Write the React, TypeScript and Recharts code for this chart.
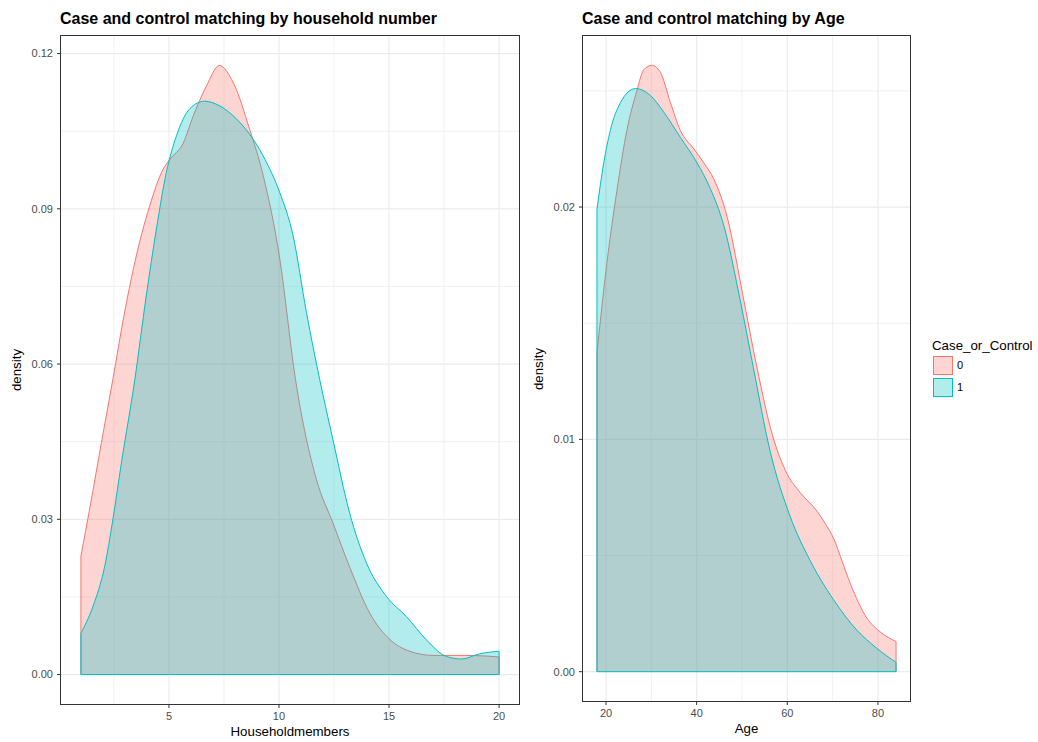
import { ComposedChart, Area, XAxis, YAxis, CartesianGrid, ReferenceLine } from 'recharts';

const FONT = '"Liberation Sans", Arial, Helvetica, sans-serif';
const RED = '#F8766D';
const TEAL = '#00BFC4';

// household members panel
const hhX0 = [1, 1.42, 1.93, 2.45, 2.95, 3.44, 4.12, 4.73, 5.03, 5.65, 6.1, 6.7, 7.29, 7.93, 8.67, 9.29, 10.03, 10.75, 11.7, 12.45, 13.2, 14.12, 15.03, 15.94, 17.0, 18.5, 20];
const hhD0 = [0.0229, 0.0325, 0.0448, 0.057, 0.0692, 0.0795, 0.0905, 0.0976, 0.0995, 0.1027, 0.1079, 0.1137, 0.1177, 0.1143, 0.1053, 0.0963, 0.0805, 0.057, 0.0377, 0.0293, 0.0209, 0.0119, 0.0068, 0.0045, 0.0037, 0.0037, 0.0034];
const hhX1 = [1, 1.55, 2.08, 2.45, 2.84, 3.45, 3.97, 4.43, 4.88, 5.34, 5.94, 6.62, 7.3, 8.06, 8.82, 9.43, 10.03, 10.64, 11.25, 11.85, 12.45, 13.21, 13.97, 14.88, 15.79, 16.7, 17.6, 18.3, 19.1, 20];
const hhD1 = [0.008, 0.0132, 0.0209, 0.0299, 0.0409, 0.057, 0.0732, 0.0861, 0.097, 0.1041, 0.1093, 0.1108, 0.1099, 0.1074, 0.1035, 0.099, 0.0932, 0.0848, 0.0699, 0.057, 0.0454, 0.0312, 0.0216, 0.0151, 0.0112, 0.0067, 0.0035, 0.003, 0.004, 0.0045];
const hhXTicks = [5, 10, 15, 20];
const hhXMinor = [2.5, 7.5, 12.5, 17.5];
const hhYTicks = [0, 0.03, 0.06, 0.09, 0.12];
const hhYMinor = [0.015, 0.045, 0.075, 0.105];

// age panel
const ageX0 = [18, 20.2, 22.4, 24.6, 26.8, 28.3, 30.1, 32.0, 34.2, 36.4, 39.4, 41.6, 43.8, 46.7, 50.4, 53.3, 56.7, 60.0, 62.9, 66.6, 68.3, 70.3, 72.2, 73.9, 77.6, 80.6, 84];
const ageD0 = [0.0137, 0.0176, 0.0207, 0.0233, 0.025, 0.0259, 0.0261, 0.0258, 0.0245, 0.0233, 0.0225, 0.0219, 0.0212, 0.0196, 0.016, 0.0131, 0.0102, 0.0085, 0.0077, 0.0069, 0.0064, 0.0057, 0.0047, 0.0038, 0.0023, 0.0017, 0.0013];
const ageX1 = [18, 19.5, 20.95, 23.2, 26.5, 29.8, 32.7, 36.4, 40.1, 43.0, 46.0, 49.6, 52.5, 56.2, 60.6, 65, 70.2, 75.3, 79.8, 84];
const ageD1 = [0.0199, 0.0219, 0.0233, 0.0245, 0.0251, 0.0248, 0.0241, 0.023, 0.0219, 0.0208, 0.0192, 0.016, 0.0131, 0.0095, 0.0067, 0.0048, 0.0031, 0.0018, 0.001, 0.0004];
const ageXTicks = [20, 40, 60, 80];
const ageXMinor = [30, 50, 70];
const ageYTicks = [0, 0.01, 0.02];
const ageYMinor = [0.005, 0.015, 0.025];

const groups = ['0', '1'];

function toSeries(xs: number[], ds: number[]) {
  return xs.map((x, i) => ({ x, d: ds[i] }));
}

function expand(lo: number, hi: number) {
  const pad = (hi - lo) * 0.05;
  return [lo - pad, hi + pad];
}

type PanelProps = {
  left: number;
  width: number;
  plotLeft: number;
  plotRight: number;
  plotBottom: number;
  title: string;
  xLabel: string;
  x0: number[];
  d0: number[];
  x1: number[];
  d1: number[];
  xTicks: number[];
  xMinor: number[];
  yTicks: number[];
  yMinor: number[];
};

function Panel(p: PanelProps) {
  const height = 742;
  const top = 35;
  const yAxisW = 40;
  const xAxisH = 30;
  const margin = {
    top,
    left: p.plotLeft - p.left - yAxisW,
    right: p.left + p.width - p.plotRight,
    bottom: height - p.plotBottom - xAxisH,
  };
  const allX = [...p.x0, ...p.x1];
  const allD = [...p.d0, ...p.d1];
  const xDomain = expand(Math.min(...allX), Math.max(...allX));
  const yDomain = expand(0, Math.max(...allD));
  const red = toSeries(p.x0, p.d0);
  const teal = toSeries(p.x1, p.d1);
  const n0 = p.x0.length - 1;
  const n1 = p.x1.length - 1;
  const tickStyle = { fill: '#4d4d4d', fontSize: 11, fontFamily: FONT };
  const plotMidX = (p.plotLeft + p.plotRight) / 2;
  const plotMidY = (top + p.plotBottom) / 2;

  return (
    <>
      <div style={{ position: 'absolute', left: p.plotLeft, top: 11, font: `bold 16px ${FONT}`, lineHeight: '16px', color: '#000', whiteSpace: 'nowrap' }}>
        {p.title}
      </div>
      <div style={{ position: 'absolute', left: p.left, top: 0 }}>
        <ComposedChart width={p.width} height={height} margin={margin}>
          <CartesianGrid stroke="#ebebeb" strokeWidth={0.7} horizontalValues={p.yMinor} verticalValues={p.xMinor} />
          <CartesianGrid stroke="#ebebeb" strokeWidth={1.2} horizontalValues={p.yTicks} verticalValues={p.xTicks} />
          <XAxis
            type="number"
            dataKey="x"
            domain={xDomain}
            ticks={p.xTicks}
            interval={0}
            allowDataOverflow
            axisLine={false}
            tickLine={{ stroke: '#333333' }}
            tickSize={3}
            tickMargin={4}
            height={xAxisH}
            tick={tickStyle}
          />
          <YAxis
            type="number"
            domain={yDomain}
            ticks={p.yTicks}
            interval={0}
            allowDataOverflow
            axisLine={false}
            tickLine={{ stroke: '#333333' }}
            tickSize={3}
            tickMargin={4}
            width={yAxisW}
            tick={tickStyle}
            tickFormatter={(v: number) => v.toFixed(2)}
          />
          <Area data={red} dataKey="d" type="monotone" baseValue={0} stroke={RED} strokeWidth={1} fill={RED} fillOpacity={0.3} dot={false} activeDot={false} isAnimationActive={false} />
          <Area data={teal} dataKey="d" type="monotone" baseValue={0} stroke={TEAL} strokeWidth={1} fill={TEAL} fillOpacity={0.3} dot={false} activeDot={false} isAnimationActive={false} />
          {/* polygon edges of the density outlines */}
          <ReferenceLine segment={[{ x: p.x0[0], y: 0 }, { x: p.x0[0], y: p.d0[0] }]} stroke={RED} strokeWidth={1} />
          <ReferenceLine segment={[{ x: p.x0[n0], y: 0 }, { x: p.x0[n0], y: p.d0[n0] }]} stroke={RED} strokeWidth={1} />
          <ReferenceLine segment={[{ x: p.x1[0], y: 0 }, { x: p.x1[0], y: p.d1[0] }]} stroke={TEAL} strokeWidth={1} />
          <ReferenceLine segment={[{ x: p.x1[n1], y: 0 }, { x: p.x1[n1], y: p.d1[n1] }]} stroke={TEAL} strokeWidth={1} />
          <ReferenceLine segment={[{ x: p.x1[0], y: 0 }, { x: p.x1[n1], y: 0 }]} stroke={TEAL} strokeWidth={1} />
        </ComposedChart>
      </div>
      <div style={{ position: 'absolute', left: p.plotLeft, top, width: p.plotRight - p.plotLeft, height: p.plotBottom - top, border: '1px solid #333333', boxSizing: 'border-box', pointerEvents: 'none' }} />
      <div style={{ position: 'absolute', left: plotMidX - 150, width: 300, top: p.plotBottom + 20, textAlign: 'center', font: `13.3px ${FONT}`, lineHeight: '13.3px', color: '#000' }}>
        {p.xLabel}
      </div>
      <div style={{ position: 'absolute', left: p.plotLeft - 43 - 100, width: 200, top: plotMidY - 7, textAlign: 'center', font: `13.3px ${FONT}`, lineHeight: '14px', color: '#000', transform: 'rotate(-90deg)', transformOrigin: '50% 50%' }}>
        density
      </div>
    </>
  );
}

export default function App() {
  return (
    <div style={{ position: 'absolute', left: 0, top: 0, width: 1038, height: 742, background: '#fff', overflow: 'hidden' }}>
      <Panel
        left={0}
        width={540}
        plotLeft={60}
        plotRight={520}
        plotBottom={705}
        title="Case and control matching by household number"
        xLabel="Householdmembers"
        x0={hhX0}
        d0={hhD0}
        x1={hhX1}
        d1={hhD1}
        xTicks={hhXTicks}
        xMinor={hhXMinor}
        yTicks={hhYTicks}
        yMinor={hhYMinor}
      />
      <Panel
        left={540}
        width={380}
        plotLeft={582}
        plotRight={911}
        plotBottom={702}
        title="Case and control matching by Age"
        xLabel="Age"
        x0={ageX0}
        d0={ageD0}
        x1={ageX1}
        d1={ageD1}
        xTicks={ageXTicks}
        xMinor={ageXMinor}
        yTicks={ageYTicks}
        yMinor={ageYMinor}
      />
      <div style={{ position: 'absolute', left: 932, top: 339, font: `13.3px ${FONT}`, lineHeight: '13.3px', color: '#000', whiteSpace: 'nowrap' }}>
        Case_or_Control
      </div>
      {groups.map((g, i) => {
        const color = i === 0 ? RED : TEAL;
        const fill = i === 0 ? 'rgba(248,118,109,0.3)' : 'rgba(0,191,196,0.3)';
        const y = 356 + i * 21.5;
        return (
          <div key={g}>
            <div style={{ position: 'absolute', left: 933, top: y, width: 20, height: 19, background: fill, border: `1px solid ${color}`, boxSizing: 'border-box' }} />
            <div style={{ position: 'absolute', left: 957, top: y + 4, font: `11px ${FONT}`, lineHeight: '11px', color: '#000' }}>{g}</div>
          </div>
        );
      })}
    </div>
  );
}
